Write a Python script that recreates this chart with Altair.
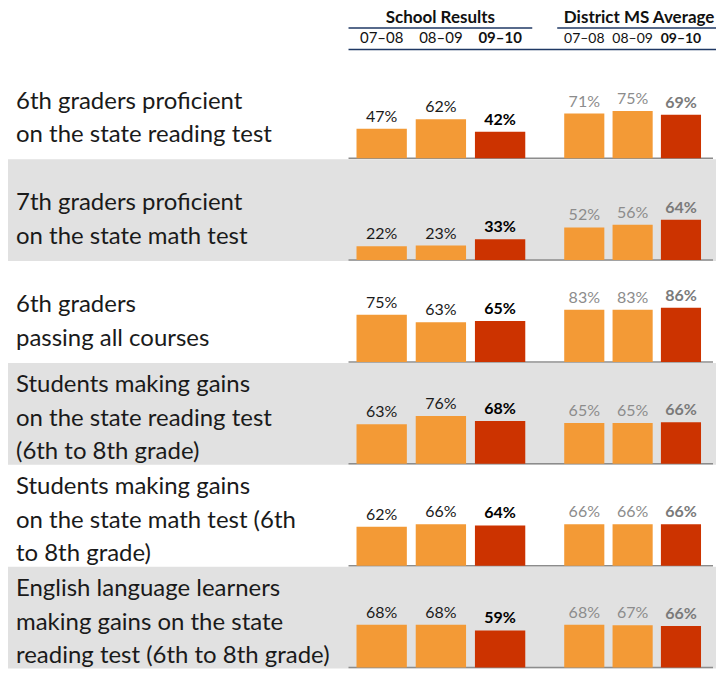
import altair as alt
import pandas as pd

# ---- data ----
row_labels = [
    "6th graders proficient\non the state reading test",
    "7th graders proficient\non the state math test",
    "6th graders\npassing all courses",
    "Students making gains\non the state reading test\n(6th to 8th grade)",
    "Students making gains\non the state math test (6th\nto 8th grade)",
    "English language learners\nmaking gains on the state\nreading test (6th to 8th grade)",
]
periods = ["07–08", "08–09", "09–10"]
school_values = [
    [47, 62, 42],
    [22, 23, 33],
    [75, 63, 65],
    [63, 76, 68],
    [62, 66, 64],
    [68, 68, 59],
]
district_values = [
    [71, 75, 69],
    [52, 56, 64],
    [83, 83, 86],
    [65, 65, 66],
    [66, 66, 66],
    [68, 67, 66],
]

# ---- layout constants ----
W, H = 709, 661
ROW_PX = 102.0
TOP = 49 / ROW_PX            # top of first row, in row units
BAR_UNIT = 0.63 / ROW_PX     # row units per percentage point
LINE_H = 33.5
FONT = "Lato"
ORANGE = "#F39A36"
RED = "#CC3300"
NAVY = "#1F3864"
CUR = "datum.period == '09–10'"

yscale = alt.Scale(domain=[0, H / ROW_PX], reverse=True, nice=False, zero=False)

def long_df(values):
    recs = []
    for i, row in enumerate(values):
        for p, v in zip(periods, row):
            recs.append({"row": i, "period": p, "value": v, "label": f"{v}%"})
    return pd.DataFrame(recs)

school_df = long_df(school_values)
district_df = long_df(district_values)
label_df = pd.DataFrame({
    "row": list(range(len(row_labels))),
    "text": row_labels,
    "nlines": [len(t.split("\n")) for t in row_labels],
})
period_df = pd.DataFrame({"period": periods})
one = pd.DataFrame({"a": [0]})

calc_base = f"datum.row + {TOP} + 0.99"
calc_top = f"datum.row + {TOP} + 0.99 - datum.value * {BAR_UNIT}"

# background bands
bg = alt.Chart(label_df).transform_filter("datum.row % 2 == 1").transform_calculate(
    y0=f"datum.row + {TOP}", y1=f"datum.row + {TOP} + 1"
).mark_rect(color="#E1E1E1").encode(
    x=alt.value(0), x2=alt.value(W),
    y=alt.Y("y0:Q", scale=yscale, axis=None), y2="y1:Q",
)

# baselines
base_rules = alt.Chart(label_df).transform_calculate(
    base=calc_base
).mark_rule(color="#8C8C8C", strokeWidth=1.5).encode(
    x=alt.value(341), x2=alt.value(706),
    y=alt.Y("base:Q", scale=yscale, axis=None),
)

# row labels (first line position so that the block is centred in its row)
labels = alt.Chart(label_df).transform_calculate(
    ly=(f"datum.row + {TOP} + 0.5 + (datum.nlines == 2 ? 10 : 5) / {ROW_PX}"
        f" - (datum.nlines - 1) * {LINE_H / 2} / {ROW_PX}")
).mark_text(
    align="left", baseline="middle", font=FONT, fontSize=24, lineHeight=LINE_H,
    lineBreak="\n", color="#1a1a1a",
).encode(
    x=alt.value(8),
    y=alt.Y("ly:Q", scale=yscale, axis=None),
    text="text:N",
)

def group(df, rng, pad, txt_color, txt_bold_color, title, title_x, head_size):
    xs = alt.Scale(domain=periods, range=rng, paddingInner=pad, paddingOuter=0)
    x = alt.X("period:N", scale=xs, axis=None)
    base = alt.Chart(df).transform_calculate(base=calc_base, top=calc_top)
    bars = base.mark_bar().encode(
        x=x,
        y=alt.Y("base:Q", scale=yscale, axis=None),
        y2="top:Q",
        color=alt.condition(CUR, alt.value(RED), alt.value(ORANGE)),
    )
    vals_n = base.transform_filter(f"!({CUR})").mark_text(
        baseline="bottom", dy=-4, font=FONT, fontSize=16, color=txt_color
    ).encode(x=x, y=alt.Y("top:Q", scale=yscale, axis=None), text="label:N")
    vals_b = base.transform_filter(CUR).mark_text(
        baseline="bottom", dy=-4, font=FONT, fontSize=16, fontWeight="bold", color=txt_bold_color
    ).encode(x=x, y=alt.Y("top:Q", scale=yscale, axis=None), text="label:N")
    head_n = alt.Chart(period_df).transform_filter(f"!({CUR})").mark_text(
        baseline="alphabetic", font=FONT, fontSize=head_size, color="#111"
    ).encode(x=x, y=alt.value(35), text="period:N")
    head_b = alt.Chart(period_df).transform_filter(CUR).mark_text(
        baseline="alphabetic", font=FONT, fontSize=head_size, fontWeight="bold", color="#111"
    ).encode(x=x, y=alt.value(35), text="period:N")
    ttl = alt.Chart(one).mark_text(
        baseline="alphabetic", font=FONT, fontSize=17, fontWeight="bold", color="#111"
    ).encode(x=alt.value(title_x), y=alt.value(15), text=alt.value(title))
    return alt.layer(bars, vals_n, vals_b, head_n, head_b, ttl)

school = group(school_df, [349, 518], 0.15, "#1a1a1a", "#000000", "School Results", 433, 15)
district = group(district_df, [557, 694], 0.17, "#8C8C8C", "#7A7A7A", "District MS Average", 632, 14)

u1 = alt.Chart(one).mark_rule(color=NAVY, strokeWidth=1.5).encode(
    x=alt.value(341), x2=alt.value(525), y=alt.value(19.5))
u2 = alt.Chart(one).mark_rule(color=NAVY, strokeWidth=1.5).encode(
    x=alt.value(550), x2=alt.value(709), y=alt.value(19.5))
u3 = alt.Chart(one).mark_rule(color=NAVY, strokeWidth=1.5).encode(
    x=alt.value(341), x2=alt.value(709), y=alt.value(41))

chart = alt.layer(bg, base_rules, labels, u1, u2, u3, school, district).resolve_scale(
    x="independent"
).properties(
    width=W, height=H, padding=0, background="white"
).configure_view(stroke=None)

chart.save("out.html", embed_options={"renderer": "svg", "actions": False})
